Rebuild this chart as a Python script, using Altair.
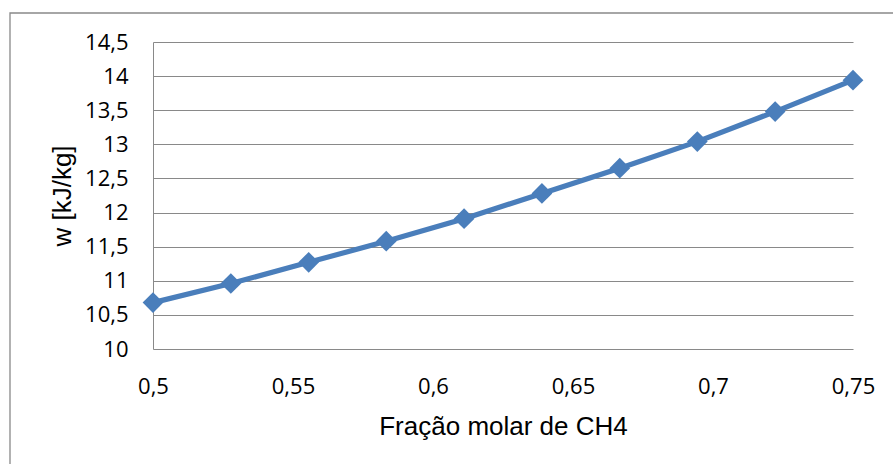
import altair as alt
import pandas as pd

# Mole fraction of CH4 and specific work
x_frac = [0.5, 0.5278, 0.5556, 0.5833, 0.6111, 0.6389, 0.6667, 0.6944, 0.7222, 0.75]
w_kj = [10.68, 10.96, 11.27, 11.58, 11.91, 12.28, 12.65, 13.04, 13.48, 13.94]

x_ticks = [0.5, 0.55, 0.6, 0.65, 0.7, 0.75]
y_ticks = [10, 10.5, 11, 11.5, 12, 12.5, 13, 13.5, 14, 14.5]

df = pd.DataFrame({"x": x_frac, "w": w_kj})

BLUE = "#4a7ebb"
GRID = "#898989"
LABEL_FONT = "Open Sans"
TITLE_FONT = "Liberation Sans"
comma = "replace(toString(datum.value), '.', ',')"

x_enc = alt.X(
    "x:Q",
    scale=alt.Scale(domain=[0.5, 0.75], nice=False, zero=False),
    axis=alt.Axis(
        values=x_ticks, labelExpr=comma, labelFont=LABEL_FONT, labelFontSize=22,
        labelColor="black", labelPadding=44, labelBaseline="alphabetic",
        labelFlush=False, labelOverlap=False, ticks=False, domain=False, grid=False,
        title="Fração molar de CH4", titleFont=TITLE_FONT, titleFontSize=26,
        titleFontWeight="normal", titleColor="black", titleX=350, titleY=85,
        titleBaseline="alphabetic", titleAlign="center",
    ),
)
y_enc = alt.Y(
    "w:Q",
    scale=alt.Scale(domain=[10, 14.5], nice=False, zero=False),
    axis=alt.Axis(
        values=y_ticks, labelExpr=comma, labelFont=LABEL_FONT, labelFontSize=22,
        labelColor="black", labelPadding=25, labelBaseline="middle",
        labelOverlap=False, labelFlush=False, ticks=False, domain=True, domainColor=GRID,
        grid=True, gridColor=GRID, gridWidth=1.2,
        title="w [kJ/kg]", titleFont=TITLE_FONT, titleFontSize=26,
        titleFontWeight="normal", titleColor="black", titleAngle=270,
        titleX=-83, titleY=153.5, titleBaseline="alphabetic", titleAlign="center",
    ),
)

# Chart-area frame
frame = alt.Chart(pd.DataFrame({"a": [0]})).mark_rect(
    filled=False, stroke=GRID, strokeWidth=1.3
).encode(
    x=alt.value(-143), x2=alt.value(760), y=alt.value(-29), y2=alt.value(440)
)

base = alt.Chart(df).encode(x=x_enc, y=y_enc)
line = base.mark_line(color=BLUE, strokeWidth=5.2)
pts = base.mark_point(shape="diamond", filled=True, color=BLUE, size=430, opacity=1)

chart = alt.layer(frame, line, pts).properties(
    width=700, height=307,
    autosize=alt.AutoSizeParams(type="none"),
    padding={"left": 153, "top": 42, "right": 40, "bottom": 115},
    background="white",
).configure_view(stroke="transparent")

chart.save("out.html", embed_options={"renderer": "svg", "actions": False})
